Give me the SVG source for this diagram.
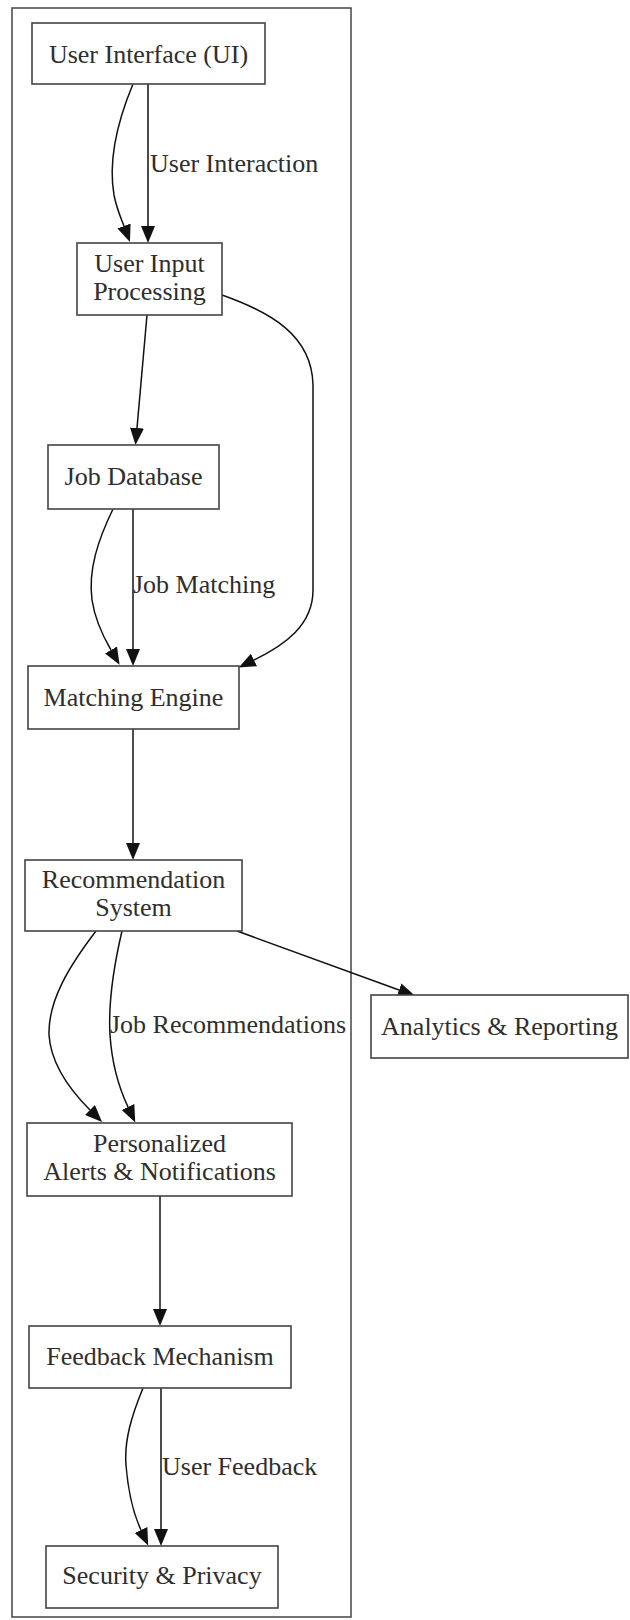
<svg xmlns="http://www.w3.org/2000/svg" width="630" height="1620" viewBox="0 0 630 1620">
  <defs>
    <marker id="arrow" markerUnits="userSpaceOnUse" markerWidth="17" markerHeight="14" viewBox="0 0 17 14" refX="0" refY="7" orient="auto">
      <path d="M0,0 L17,7 L0,14 z" fill="#111"/>
    </marker>
    <style>
      .cluster { fill: none; stroke: #444; stroke-width: 1.5; }
      .node rect { fill: #fff; stroke: #444; stroke-width: 1.6; }
      .node text, .label { font-family: "Liberation Serif", "Times New Roman", serif; font-size: 26px; fill: #2e2e2e; }
      .node text { text-anchor: middle; }
      .edge { fill: none; stroke: #111; stroke-width: 1.5; marker-end: url(#arrow); }
    </style>
  </defs>

  <rect width="630" height="1620" fill="#fff"/>

  <!-- system boundary -->
  <rect class="cluster" x="12" y="8" width="339" height="1609"/>

  <!-- connectors -->
  <g id="edges">
    <path class="edge" d="M148,84 L148,226"/>
    <path class="edge" d="M133,84 C118,120 108,160 114,195 C117,210 121,218 124,226"/>
    <path class="edge" d="M147,315 L137,428"/>
    <path class="edge" d="M222,295 C270,312 312,335 313,385 L313,590 C313,625 285,645 254,660"/>
    <path class="edge" d="M133,509 L133,649"/>
    <path class="edge" d="M113,509 C98,540 88,570 92,600 C95,620 104,638 111,650"/>
    <path class="edge" d="M133,729 L133,843"/>
    <path class="edge" d="M96,931 C70,965 48,1000 49,1035 C51,1065 70,1090 90,1110"/>
    <path class="edge" d="M122,931 C114,965 108,1000 110,1035 C112,1065 120,1090 128,1107"/>
    <path class="edge" d="M237,931 L399,990"/>
    <path class="edge" d="M160,1196 L160,1309"/>
    <path class="edge" d="M143,1388 C132,1415 124,1440 126,1465 C128,1490 134,1515 141,1530"/>
    <path class="edge" d="M161,1388 L161,1529"/>
    <text class="label" x="150" y="172">User Interaction</text>
    <text class="label" x="133" y="593">Job Matching</text>
    <text class="label" x="110" y="1033">Job Recommendations</text>
    <text class="label" x="162" y="1475">User Feedback</text>
  </g>

  <!-- nodes -->
  <g id="ui" class="node">
    <rect x="32" y="23" width="233" height="61"/>
    <text x="148.5" y="63">User Interface (UI)</text>
  </g>
  <g id="input_processing" class="node">
    <rect x="77" y="243" width="145" height="72"/>
    <text x="149.5" y="272">User Input</text>
    <text x="149.5" y="300">Processing</text>
  </g>
  <g id="job_database" class="node">
    <rect x="48" y="445" width="171" height="64"/>
    <text x="133.5" y="485">Job Database</text>
  </g>
  <g id="matching_engine" class="node">
    <rect x="28" y="666" width="211" height="63"/>
    <text x="133.5" y="706">Matching Engine</text>
  </g>
  <g id="recommendation_system" class="node">
    <rect x="25" y="860" width="217" height="71"/>
    <text x="133.5" y="888">Recommendation</text>
    <text x="133.5" y="916">System</text>
  </g>
  <g id="analytics" class="node">
    <rect x="371" y="995" width="257" height="63"/>
    <text x="499.5" y="1035">Analytics &amp; Reporting</text>
  </g>
  <g id="alerts" class="node">
    <rect x="27" y="1123" width="265" height="73"/>
    <text x="159.5" y="1152">Personalized</text>
    <text x="159.5" y="1180">Alerts &amp; Notifications</text>
  </g>
  <g id="feedback" class="node">
    <rect x="29" y="1326" width="262" height="62"/>
    <text x="160" y="1365">Feedback Mechanism</text>
  </g>
  <g id="security" class="node">
    <rect x="46" y="1546" width="232" height="62"/>
    <text x="162" y="1584">Security &amp; Privacy</text>
  </g>
</svg>
